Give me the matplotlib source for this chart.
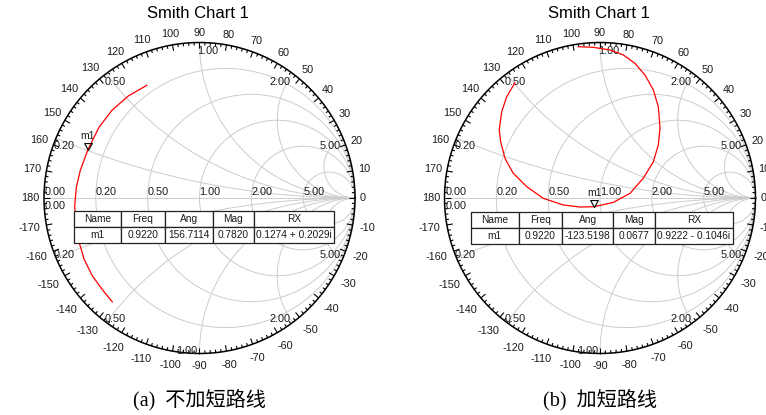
import numpy as np
import matplotlib
matplotlib.use('Agg')
import matplotlib.pyplot as plt
from matplotlib.path import Path
from matplotlib.collections import LineCollection

W, H = 766, 415
R_PX = 155.5          # radius of the unit circle in pixels
L = 1.25              # axes half range in Gamma units

# grid values
r_circles = [0.2, 0.5, 1.0, 2.0, 5.0]
x_arcs = [0.2, 0.5, 1.0, 2.0, 5.0]
grid_labels = ["0.20", "0.50", "1.00", "2.00", "5.00"]

# trace (a): without short stub, |Gamma| vs angle (deg)
a_ang = [115, 125, 135, 145, 156.7, 167, 175, 184, 200, 208, 216, 224, 230]
a_mag = [0.80, 0.80, 0.797, 0.79, 0.782, 0.787, 0.795, 0.805, 0.825, 0.84, 0.852, 0.86, 0.872]

# trace (b): with short stub, Gamma real / imag
b_re = [-0.547, -0.600, -0.632, -0.648, -0.639, -0.611, -0.558, -0.471, -0.365, -0.236,
        -0.129, -0.037, 0.086, 0.193, 0.278, 0.343, 0.375, 0.386, 0.375, 0.343,
        0.289, 0.225, 0.150, 0.064, -0.043, -0.140]
b_im = [0.741, 0.651, 0.555, 0.437, 0.362, 0.255, 0.159, 0.073, -0.002, -0.045,
        -0.058, -0.056, -0.028, 0.030, 0.127, 0.233, 0.341, 0.450, 0.587, 0.695,
        0.791, 0.866, 0.920, 0.952, 0.969, 0.973]

# marker tables
table_cols = ["Name", "Freq", "Ang", "Mag", "RX"]
a_row = ["m1", "0.9220", "156.7114", "0.7820", "0.1274 + 0.2029i"]
b_row = ["m1", "0.9220", "-123.5198", "0.0677", "0.9222 - 0.1046i"]

titles = ["Smith Chart 1", "Smith Chart 1"]
captions = ["(a)  不加短路线", "(b)  加短路线"]

SANS = "Liberation Sans"
GRID_C = "#cccccc"
TXT_C = "#1a1a1a"
px = 1.0 / R_PX

tri = Path([(0, 0), (-0.55, 1.0), (0.55, 1.0), (0, 0)],
           [Path.MOVETO, Path.LINETO, Path.LINETO, Path.CLOSEPOLY])


def draw_smith(ax):
    t = np.linspace(0, 2 * np.pi, 500)
    for r in r_circles:
        c, rad = r / (1 + r), 1 / (1 + r)
        ax.plot(c + rad * np.cos(t), rad * np.sin(t), color=GRID_C, lw=0.7, zorder=1)
    rr = np.concatenate([[0], np.logspace(-3, 4, 500)])
    for x in x_arcs:
        for s in (1, -1):
            g = (rr + 1j * s * x - 1) / (rr + 1j * s * x + 1)
            ax.plot(g.real, g.imag, color=GRID_C, lw=0.7, zorder=1)
    ax.plot([-1, 1], [0, 0], color=GRID_C, lw=0.7, zorder=1)
    ax.plot(np.cos(t), np.sin(t), color="black", lw=1.1, zorder=3)

    # angle ticks, pointing inward
    segs = []
    for d in range(0, 360, 2):
        ln = 6 * px if d % 10 == 0 else 3 * px
        a = np.radians(d)
        segs.append([(np.cos(a), np.sin(a)), ((1 - ln) * np.cos(a), (1 - ln) * np.sin(a))])
    ax.add_collection(LineCollection(segs, colors="black", linewidths=0.8, zorder=3))

    # angle labels
    for d in range(-170, 190, 10):
        lab = str(d)
        a = np.radians(d)
        w = len(lab) * 5.8
        gap = 5 + (3 * abs(np.sin(a)) if d < 0 else 0)
        dist = 1 + (gap + abs(np.cos(a)) * w / 2 + abs(np.sin(a)) * 4.5) * px
        ax.text(dist * np.cos(a), dist * np.sin(a), lab, ha="center", va="center",
                fontsize=7.8, family=SANS, color=TXT_C)

    # resistance labels on the real axis
    for r, lab in zip(r_circles, grid_labels):
        g = (r - 1) / (r + 1)
        ax.text(g, 1 * px, lab, ha="left", va="bottom", fontsize=7.8, family=SANS, color=TXT_C)
    ax.text(-1 + 1 * px, 1 * px, "0.00", ha="left", va="bottom", fontsize=7.8, family=SANS, color=TXT_C)
    ax.text(-1 + 1 * px, -3 * px, "0.00", ha="left", va="top", fontsize=7.8, family=SANS, color=TXT_C)

    # reactance labels on the outer circle
    up_ha = ["left", "left", "left", "right", "right"]
    lo_ha = ["left", "left", "right", "right", "right"]
    for x, lab, h1, h2 in zip(x_arcs, grid_labels, up_ha, lo_ha):
        g = (1j * x - 1) / (1j * x + 1)
        ax.text(g.real - 2 * px, g.imag - 3 * px, lab, ha=h1, va="top",
                fontsize=7.8, family=SANS, color=TXT_C)
        ax.text(g.real - 2 * px, -g.imag + 3 * px, lab, ha=h2, va="center",
                fontsize=7.8, family=SANS, color=TXT_C)

    ax.set_xlim(-L, L)
    ax.set_ylim(-L, L)
    ax.axis("off")


def add_marker(ax, re, im):
    ax.plot([re], [im], marker=tri, markersize=10, markerfacecolor="none",
            markeredgecolor="black", markeredgewidth=0.8, zorder=6)
    ax.annotate("m1", (re, im), xytext=(0, 9.8), textcoords="offset points",
                ha="center", va="center", fontsize=7.5, family=SANS, color=TXT_C)


def add_table(fig, row, x0, y0, x1, y1, widths):
    tax = fig.add_axes([x0 / W, 1 - y1 / H, (x1 - x0) / W, (y1 - y0) / H])
    tax.axis("off")
    tot = sum(widths)
    tb = tax.table(cellText=[row], colLabels=table_cols, cellLoc="center",
                   colWidths=[w / tot for w in widths], bbox=[0, 0, 1, 1])
    tb.auto_set_font_size(False)
    for cell in tb.get_celld().values():
        cell.set_linewidth(0.9)
        cell.set_edgecolor("#222222")
        cell.set_facecolor("white")
        cell.get_text().set_fontsize(7.3)
        cell.get_text().set_family(SANS)
        cell.get_text().set_color(TXT_C)
    tax.set_zorder(10)


fig = plt.figure(figsize=(W / 100, H / 100), dpi=100)

centers = [(199.5, 198), (600, 198)]
axes = []
for cx, cy in centers:
    half = L * R_PX
    ax = fig.add_axes([(cx - half) / W, (H - cy - half) / H, 2 * half / W, 2 * half / H])
    draw_smith(ax)
    axes.append(ax)

# trace (a)
ang = np.radians(a_ang)
axes[0].plot(np.array(a_mag) * np.cos(ang), np.array(a_mag) * np.sin(ang),
             color="red", lw=0.9, zorder=5)
m = float(a_row[3]) * np.exp(1j * np.radians(float(a_row[2])))
add_marker(axes[0], m.real, m.imag)

# trace (b)
axes[1].plot(b_re, b_im, color="red", lw=0.9, zorder=5)
m = float(b_row[3]) * np.exp(1j * np.radians(float(b_row[2])))
add_marker(axes[1], m.real, m.imag)

add_table(fig, a_row, 74, 211, 334, 243, [47, 43.7, 48, 41, 80])
add_table(fig, b_row, 470.7, 212.3, 733, 244.3, [48, 43.6, 51, 41.4, 78.3])

for (cx, cy), tt, cap in zip(centers, titles, captions):
    fig.text((cx - 1.5) / W, 1 - 14 / H, tt, ha="center", va="center", fontsize=12, family=SANS)
    fig.text(cx / W, 1 - 400 / H, cap, ha="center", va="center", fontsize=14.5,
             family=["Liberation Serif", "Noto Sans CJK SC"])

fig.savefig("out.png", dpi=100)
